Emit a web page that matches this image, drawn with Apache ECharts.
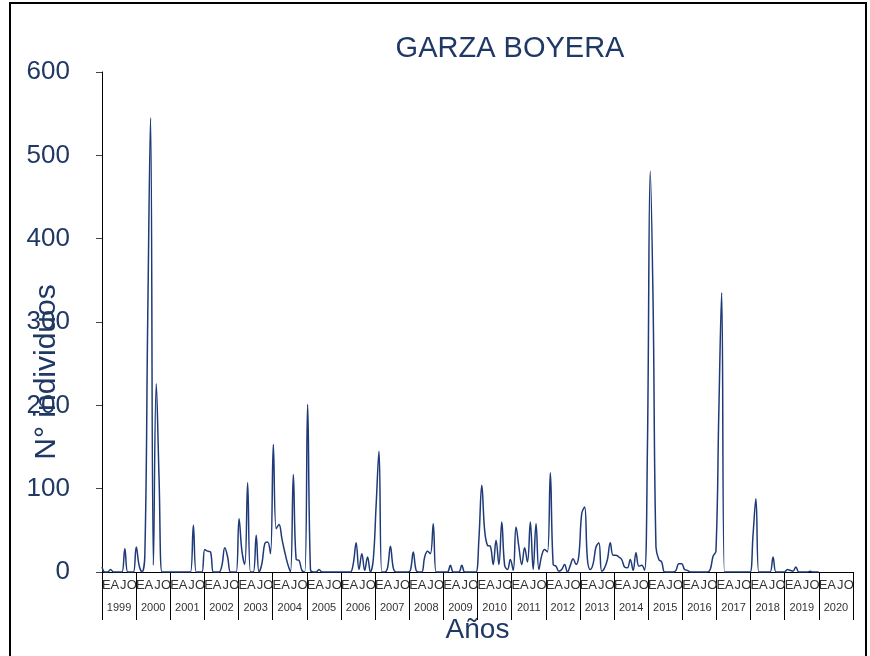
<!DOCTYPE html>
<html>
<head>
<meta charset="utf-8">
<title>Garza boyera</title>
<script src="https://cdn.jsdelivr.net/npm/echarts@6/dist/echarts.min.js"></script>
<style>
  html, body { margin: 0; padding: 0; background: #fff; }
  #chart { width: 870px; height: 656px; }
</style>
</head>
<body>
<div id="chart"></div>
<script>
'use strict';

var years = [1999, 2000, 2001, 2002, 2003, 2004, 2005, 2006, 2007, 2008, 2009,
             2010, 2011, 2012, 2013, 2014, 2015, 2016, 2017, 2018, 2019, 2020];
var quarterLetters = ['E', 'A', 'J', 'O'];   // Enero, Abril, Julio, Octubre

// monthly counts, one row per year (Jan..Dec)
var counts = [
  [6, 0, 0, 3, 0, 0, 0, 0, 28, 0, 0, 0],            // 1999
  [30, 8, 0, 20, 300, 545, 8, 226, 110, 0, 0, 0],   // 2000
  [0, 0, 0, 0, 0, 0, 0, 0, 56, 0, 0, 0],            // 2001
  [27, 25, 24, 0, 0, 0, 8, 29, 18, 0, 0, 0],        // 2002
  [64, 25, 9, 107, 0, 0, 44, 0, 10, 34, 36, 22],    // 2003
  [153, 52, 57, 40, 24, 10, 0, 117, 15, 14, 2, 0],  // 2004
  [201, 3, 0, 0, 3, 0, 0, 0, 0, 0, 0, 0],           // 2005
  [0, 0, 0, 0, 10, 35, 3, 22, 2, 18, 0, 15],        // 2006
  [80, 145, 0, 0, 5, 31, 5, 0, 0, 0, 0, 0],         // 2007
  [2, 24, 2, 0, 0, 18, 25, 22, 58, 0, 0, 0],        // 2008
  [0, 0, 8, 0, 0, 0, 8, 0, 0, 0, 0, 0],             // 2009
  [40, 104, 50, 32, 31, 9, 38, 9, 60, 8, 3, 15],    // 2010
  [2, 54, 30, 9, 29, 12, 60, 3, 58, 3, 20, 27],     // 2011
  [24, 119, 9, 7, 1, 3, 9, 0, 8, 16, 9, 20],        // 2012
  [70, 78, 15, 3, 10, 30, 35, 1, 5, 15, 35, 20],    // 2013
  [20, 18, 15, 6, 5, 15, 2, 23, 7, 8, 2, 147],      // 2014
  [481, 320, 30, 15, 12, 0, 0, 0, 0, 2, 10, 10],    // 2015
  [3, 2, 0, 0, 0, 0, 0, 0, 0, 3, 19, 25],           // 2016
  [190, 335, 0, 0, 0, 0, 0, 0, 0, 0, 0, 0],         // 2017
  [45, 88, 0, 0, 0, 0, 0, 18, 0, 0, 0, 0],          // 2018
  [3, 2, 1, 6, 0, 0, 0, 0, 1, 0, 0, 0],             // 2019
  [null, null, null, null, null, null, null, null, null, null, null, null] // 2020
];

var FONT = '"Liberation Sans", Arial, sans-serif';
var NAVY = '#1F3864';

var monthCats = [], quarterCats = [], values = [];
years.forEach(function (y, i) {
  for (var m = 0; m < 12; m++) {
    monthCats.push(y + '-' + (m + 1));
    values.push(counts[i][m]);
  }
  quarterLetters.forEach(function (q) { quarterCats.push(q); });
});

var myChart = echarts.init(document.getElementById('chart'));
var option = {
  animation: false,
  backgroundColor: '#fff',
  textStyle: { fontFamily: FONT },
  title: {
    text: 'GARZA BOYERA',
    left: 505,
    top: 29,
    textAlign: 'center',
    textStyle: { fontSize: 29, fontWeight: 'normal', color: NAVY, fontFamily: FONT }
  },
  grid: { left: 102, right: 17, top: 72, bottom: 84, containLabel: false, outerBoundsMode: 'none' },
  xAxis: [
    {
      type: 'category',
      data: monthCats,
      boundaryGap: false,
      axisLine: { lineStyle: { color: '#000', width: 1 } },
      axisTick: { show: false },
      axisLabel: { show: false },
      name: 'Años',
      nameLocation: 'middle',
      nameGap: 44,
      nameMoveOverlap: false,
      nameTextStyle: { fontSize: 28, color: NAVY, fontFamily: FONT }
    },
    {
      type: 'category',
      data: quarterCats,
      position: 'bottom',
      boundaryGap: true,
      axisLine: { show: false },
      axisTick: { show: false },
      axisLabel: { interval: 0, fontSize: 13, color: '#333', margin: 7, fontFamily: FONT }
    },
    {
      type: 'category',
      data: years.map(String),
      position: 'bottom',
      boundaryGap: true,
      axisLine: { show: false },
      axisTick: { show: true, interval: 0, length: 48, lineStyle: { color: '#000' } },
      axisLabel: { interval: 0, fontSize: 11, color: '#333', margin: 30, fontFamily: FONT }
    }
  ],
  yAxis: {
    type: 'value',
    min: 0,
    max: 600,
    interval: 100,
    axisLine: { show: true, lineStyle: { color: '#000' } },
    axisTick: { show: true, length: 6, lineStyle: { color: '#444' } },
    splitLine: { show: false },
    axisLabel: { fontSize: 26, color: NAVY, margin: 32, fontFamily: FONT },
    name: 'N° individuos',
    nameLocation: 'middle',
    nameRotate: 90,
    nameGap: 40,
    nameMoveOverlap: false,
    nameTextStyle: { fontSize: 30, color: NAVY, fontFamily: FONT, padding: [0, 100, 0, 0] }
  },
  series: [{
    type: 'line',
    xAxisIndex: 0,
    data: values,
    smooth: 0.4,
    showSymbol: false,
    connectNulls: false,
    lineStyle: { color: '#1F3A78', width: 1.5 }
  }],
  graphic: [{
    type: 'rect',
    silent: true,
    shape: { x: 10, y: 3, width: 856, height: 680 },
    style: { fill: 'none', stroke: '#000', lineWidth: 2 }
  }]
};
myChart.setOption(option);
</script>
</body>
</html>
